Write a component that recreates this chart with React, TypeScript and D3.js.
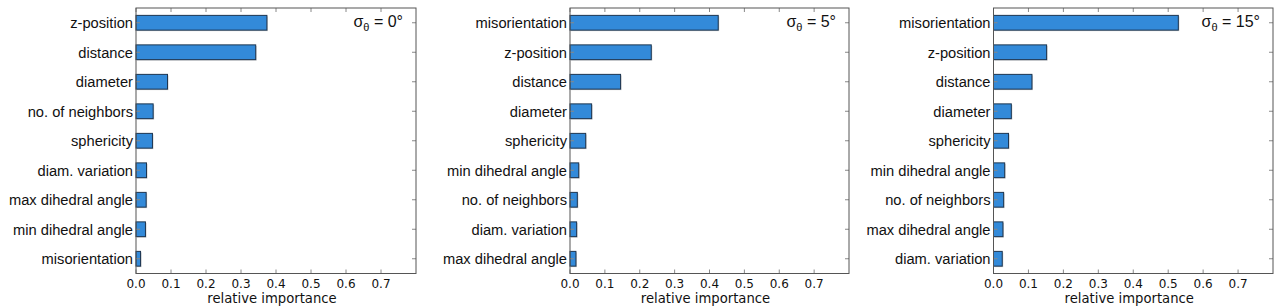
import React from "react";
import * as d3 from "d3";

const panel1Labels = ["z-position", "distance", "diameter", "no. of neighbors", "sphericity", "diam. variation", "max dihedral angle", "min dihedral angle", "misorientation"];
const panel1Values = [0.374, 0.342, 0.09, 0.049, 0.047, 0.03, 0.029, 0.027, 0.013];

const panel2Labels = ["misorientation", "z-position", "distance", "diameter", "sphericity", "min dihedral angle", "no. of neighbors", "diam. variation", "max dihedral angle"];
const panel2Values = [0.425, 0.233, 0.145, 0.062, 0.045, 0.025, 0.021, 0.019, 0.017];

const panel3Labels = ["misorientation", "z-position", "distance", "diameter", "sphericity", "min dihedral angle", "no. of neighbors", "max dihedral angle", "diam. variation"];
const panel3Values = [0.529, 0.152, 0.11, 0.051, 0.043, 0.032, 0.029, 0.027, 0.025];

const sigmaLabels = ["0°", "5°", "15°"];
const xTicks = [0, 0.1, 0.2, 0.3, 0.4, 0.5, 0.6, 0.7];

const panels = [
  { labels: panel1Labels, values: panel1Values, sigma: sigmaLabels[0], left: 136, right: 416 },
  { labels: panel2Labels, values: panel2Values, sigma: sigmaLabels[1], left: 570, right: 849 },
  { labels: panel3Labels, values: panel3Values, sigma: sigmaLabels[2], left: 993.5, right: 1273 },
];

const TOP = 8;
const BOTTOM = 273.5;

function Panel({ p }: { p: typeof panels[number] }) {
  const x = d3.scaleLinear().domain([0, 0.8]).range([p.left, p.right]);
  const y = d3.scaleBand<string>().domain(p.labels).range([TOP, BOTTOM]).paddingInner(0.5).paddingOuter(0.25);
  const bw = y.bandwidth();
  const tickLen = 4;
  return (
    <g>
      {p.labels.map((l, i) => {
        const y0 = y(l)!;
        const w = x(p.values[i]) - x(0);
        return (
          <g key={l}>
            <rect x={x(0) + 1} y={y0 + 1} width={w} height={bw} fill="#c8c8c8" />
            <rect x={x(0)} y={y0} width={w} height={bw} fill="#338ad9" stroke="#1d3550" strokeWidth={1} />
            <text x={p.left - 3} y={y0 + bw / 2} dy="0.36em" textAnchor="end" fontFamily="Liberation Sans, Arial, sans-serif" fontSize={14.7} fill="#111">{l}</text>
            <line x1={p.left} x2={p.left + tickLen} y1={y0 + bw / 2} y2={y0 + bw / 2} stroke="#888" />
            <line x1={p.right} x2={p.right - tickLen} y1={y0 + bw / 2} y2={y0 + bw / 2} stroke="#888" />
          </g>
        );
      })}
      {xTicks.map((t) => (
        <g key={t}>
          <line x1={x(t)} x2={x(t)} y1={BOTTOM} y2={BOTTOM - tickLen} stroke="#888" />
          <line x1={x(t)} x2={x(t)} y1={TOP} y2={TOP + tickLen} stroke="#888" />
          <text x={x(t)} y={287.5} textAnchor="middle" fontFamily="DejaVu Sans, sans-serif" fontSize={12} fill="#111">{t.toFixed(1)}</text>
        </g>
      ))}
      <rect x={p.left} y={TOP} width={p.right - p.left} height={BOTTOM - TOP} fill="none" stroke="#555" strokeWidth={1} />
      <text x={(p.left + p.right) / 2 - 4} y={303} textAnchor="middle" fontFamily="DejaVu Sans, sans-serif" fontSize={13.2} fill="#111">relative importance</text>
      <text x={p.right - 13} y={27} textAnchor="end" fontFamily="Liberation Sans, Arial, sans-serif" fontSize={16} fill="#111">
        σ<tspan fontSize={11} dy={4}>θ</tspan><tspan dy={-4}> = {p.sigma}</tspan>
      </text>
    </g>
  );
}

export default function App() {
  return (
    <svg width={1276} height={307} style={{ position: "absolute", left: 0, top: 0, background: "#fff" }}>
      <rect width={1276} height={307} fill="#fff" />
      {panels.map((p, i) => (
        <Panel key={i} p={p} />
      ))}
    </svg>
  );
}
